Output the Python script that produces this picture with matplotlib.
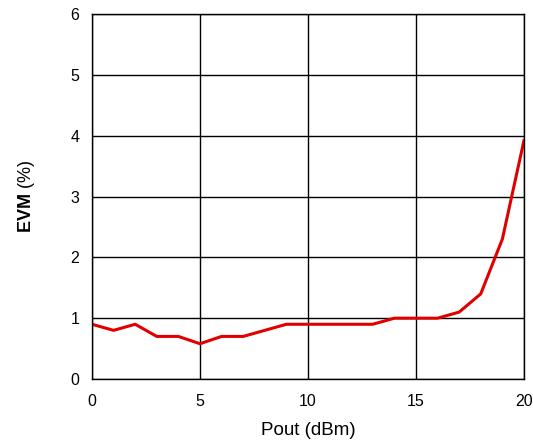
import numpy as np
from matplotlib import pyplot as plt

plt.rcParams['font.family'] = ['Liberation Sans', 'DejaVu Sans']
plt.rcParams['mathtext.fontset'] = 'custom'
plt.rcParams['mathtext.rm'] = 'Liberation Sans'
plt.rcParams['mathtext.bf'] = 'Liberation Sans:bold'

# EVM vs output power
pout = [0, 1, 2, 3, 4, 5, 6, 7, 8, 9, 10, 11, 12, 13, 14, 15, 16, 17, 18, 19, 20]
evm = [0.9, 0.8, 0.9, 0.7, 0.7, 0.58, 0.7, 0.7, 0.8, 0.9, 0.9, 0.9, 0.9, 0.9,
       1.0, 1.0, 1.0, 1.1, 1.4, 2.3, 3.92]
xticks = [0, 5, 10, 15, 20]
yticks = [0, 1, 2, 3, 4, 5, 6]

fig = plt.figure(figsize=(5.33, 4.43), dpi=100)
ax = fig.add_subplot(111)
fig.subplots_adjust(left=0.1726, right=0.983, top=0.968, bottom=0.1445)

ax.plot(pout, evm, color='#e00000', linewidth=2.2)
ax.set_xlim(0, 20)
ax.set_ylim(0, 6)
ax.set_xticks(xticks)
ax.set_yticks(yticks)
ax.grid(True, color='black', linewidth=1.0)
ax.tick_params(length=0, labelsize=11.5)
ax.tick_params(axis='x', pad=11)
ax.tick_params(axis='y', pad=9)
for s in ax.spines.values():
    s.set_color('black')
    s.set_linewidth(1.0)
ax.set_xlabel("Pout (dBm)", fontsize=13.5, labelpad=9)
ax.set_ylabel(r"$\mathbf{EVM}$ (%)", fontsize=13, labelpad=24)

plt.savefig("out.png", dpi=100)
